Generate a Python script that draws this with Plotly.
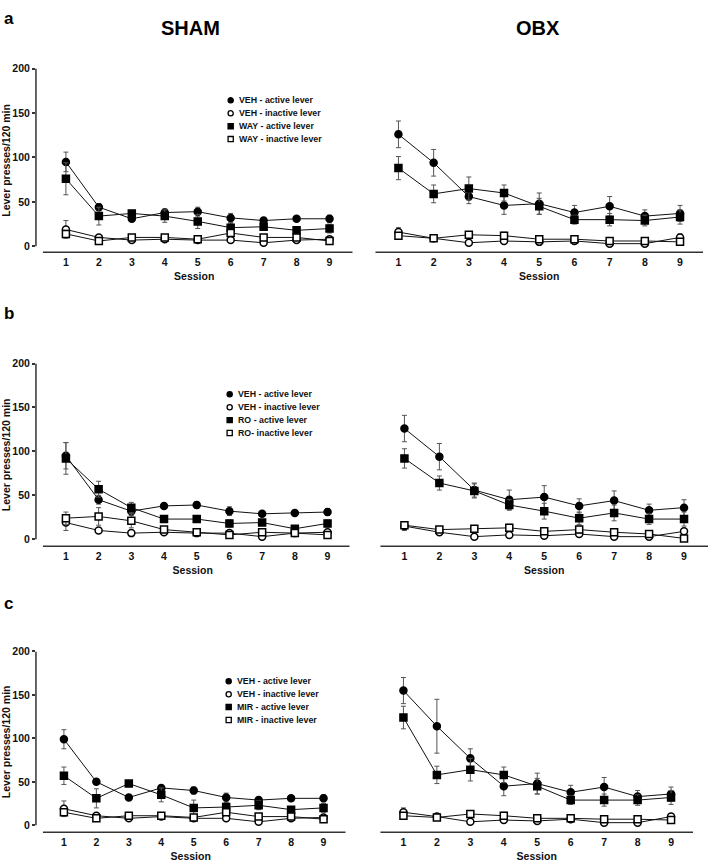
import plotly.graph_objects as go

W, H = 709, 865
sessions = [1, 2, 3, 4, 5, 6, 7, 8, 9]
y_ticks = [0, 50, 100, 150, 200]
col_titles = ["SHAM", "OBX"]
row_letters = ["a", "b", "c"]
legend_labels = [
    ["VEH - active lever", "VEH - inactive lever", "WAY - active lever", "WAY - inactive lever"],
    ["VEH - active lever", "VEH - inactive lever", "RO - active lever", "RO- inactive lever"],
    ["VEH - active lever", "VEH - inactive lever", "MIR - active lever", "MIR - inactive lever"],
]

# ---- Panel a (WAY) ----
a_sham_veh_act = [95, 44, 31, 38, 39, 32, 29, 31, 31]
a_sham_veh_act_err = [11, 4, 3, 4, 5, 5, 3, 3, 4]
a_sham_veh_inact = [19, 10, 7, 8, 7, 7, 4, 7, 8]
a_sham_veh_inact_err = [10, 2, 1, 1, 1, 1, 1, 1, 1]
a_sham_drug_act = [76, 34, 37, 34, 28, 21, 22, 18, 20]
a_sham_drug_act_err = [18, 10, 3, 7, 8, 5, 4, 3, 5]
a_sham_drug_inact = [14, 6, 10, 10, 8, 15, 10, 10, 6]
a_sham_drug_inact_err = [4, 1, 1, 2, 1, 3, 1, 1, 1]

a_obx_veh_act = [126, 94, 56, 46, 48, 38, 45, 34, 37]
a_obx_veh_act_err = [15, 15, 8, 10, 12, 8, 11, 7, 9]
a_obx_veh_inact = [16, 9, 4, 6, 5, 6, 3, 3, 10]
a_obx_veh_inact_err = [5, 1, 1, 1, 1, 1, 1, 1, 4]
a_obx_drug_act = [88, 59, 65, 60, 45, 30, 30, 29, 33]
a_obx_drug_act_err = [13, 10, 13, 9, 9, 5, 7, 6, 8]
a_obx_drug_inact = [12, 9, 13, 12, 8, 8, 6, 6, 5]
a_obx_drug_inact_err = [2, 1, 1, 4, 1, 1, 1, 1, 1]

# ---- Panel b (RO) ----
b_sham_veh_act = [95, 45, 32, 38, 39, 32, 29, 30, 31]
b_sham_veh_act_err = [15, 5, 5, 2, 4, 5, 2, 3, 4]
b_sham_veh_inact = [19, 10, 7, 8, 7, 7, 3, 7, 8]
b_sham_veh_inact_err = [9, 2, 1, 1, 1, 1, 1, 1, 1]
b_sham_drug_act = [92, 57, 36, 23, 23, 18, 19, 12, 18]
b_sham_drug_act_err = [18, 9, 6, 3, 3, 4, 3, 2, 4]
b_sham_drug_inact = [24, 26, 21, 11, 8, 5, 8, 7, 5]
b_sham_drug_inact_err = [7, 10, 8, 2, 1, 1, 1, 1, 1]

b_obx_veh_act = [126, 94, 56, 45, 48, 38, 44, 33, 36]
b_obx_veh_act_err = [15, 15, 8, 11, 13, 8, 11, 7, 9]
b_obx_veh_inact = [15, 8, 3, 5, 4, 6, 3, 3, 9]
b_obx_veh_inact_err = [5, 1, 1, 1, 1, 1, 1, 1, 3]
b_obx_drug_act = [92, 64, 55, 39, 32, 24, 30, 23, 23]
b_obx_drug_act_err = [11, 8, 8, 6, 9, 7, 9, 6, 8]
b_obx_drug_inact = [16, 11, 12, 13, 9, 11, 8, 6, 1]
b_obx_drug_inact_err = [3, 1, 1, 4, 1, 4, 1, 1, 1]

# ---- Panel c (MIR) ----
c_sham_veh_act = [99, 50, 32, 43, 40, 32, 29, 31, 31]
c_sham_veh_act_err = [11, 3, 2, 2, 4, 5, 3, 3, 4]
c_sham_veh_inact = [19, 11, 8, 10, 8, 8, 4, 8, 9]
c_sham_veh_inact_err = [9, 2, 1, 1, 1, 1, 1, 1, 1]
c_sham_drug_act = [57, 31, 48, 35, 20, 21, 23, 18, 20]
c_sham_drug_act_err = [10, 11, 2, 8, 9, 5, 5, 3, 5]
c_sham_drug_inact = [15, 8, 11, 11, 9, 15, 10, 10, 7]
c_sham_drug_inact_err = [4, 1, 1, 2, 1, 3, 1, 1, 1]

c_obx_veh_act = [155, 114, 77, 45, 48, 38, 44, 33, 36]
c_obx_veh_act_err = [15, 31, 11, 11, 12, 8, 11, 7, 8]
c_obx_veh_inact = [15, 10, 4, 6, 5, 7, 3, 3, 10]
c_obx_veh_inact_err = [5, 1, 1, 3, 1, 1, 1, 1, 3]
c_obx_drug_act = [124, 58, 64, 58, 45, 29, 29, 29, 32]
c_obx_drug_act_err = [13, 10, 13, 9, 9, 5, 7, 6, 8]
c_obx_drug_inact = [11, 9, 13, 11, 8, 8, 7, 7, 6]
c_obx_drug_inact_err = [2, 1, 1, 4, 1, 1, 1, 1, 1]

panels = [
    [
        (a_sham_veh_act, a_sham_veh_act_err, a_sham_veh_inact, a_sham_veh_inact_err,
         a_sham_drug_act, a_sham_drug_act_err, a_sham_drug_inact, a_sham_drug_inact_err),
        (a_obx_veh_act, a_obx_veh_act_err, a_obx_veh_inact, a_obx_veh_inact_err,
         a_obx_drug_act, a_obx_drug_act_err, a_obx_drug_inact, a_obx_drug_inact_err),
    ],
    [
        (b_sham_veh_act, b_sham_veh_act_err, b_sham_veh_inact, b_sham_veh_inact_err,
         b_sham_drug_act, b_sham_drug_act_err, b_sham_drug_inact, b_sham_drug_inact_err),
        (b_obx_veh_act, b_obx_veh_act_err, b_obx_veh_inact, b_obx_veh_inact_err,
         b_obx_drug_act, b_obx_drug_act_err, b_obx_drug_inact, b_obx_drug_inact_err),
    ],
    [
        (c_sham_veh_act, c_sham_veh_act_err, c_sham_veh_inact, c_sham_veh_inact_err,
         c_sham_drug_act, c_sham_drug_act_err, c_sham_drug_inact, c_sham_drug_inact_err),
        (c_obx_veh_act, c_obx_veh_act_err, c_obx_veh_inact, c_obx_veh_inact_err,
         c_obx_drug_act, c_obx_drug_act_err, c_obx_drug_inact, c_obx_drug_inact_err),
    ],
]

# ---- geometry (pixels) ----
row_geo = [(242, 63, 248), (537, 360, 544), (825, 650, 832)]
col_geo = [
    [(35, 352, 65, 329, 42), (375, 703, 398, 680, 375)],
    [(35, 349, 65, 327, 42), (380, 708, 404, 684, 380)],
    [(35, 345, 63, 323, 42), (380, 693, 403, 671, 380)],
]
letter_y = [13, 310, 602]
legend_rows = [[95, 108, 121, 134], [391, 404, 417, 430], [680, 693, 706, 719]]
legend_x = [230, 229, 228]

FONT = "Liberation Sans, Arial, sans-serif"

def px_x(p):
    return p / W

def px_y(p):
    return 1 - p / H

fig = go.Figure()
layout = dict(
    width=W, height=H, margin=dict(l=0, r=0, t=0, b=0),
    paper_bgcolor="white", plot_bgcolor="rgba(0,0,0,0)",
    showlegend=False, font=dict(family=FONT, color="black"),
)
shapes = []
annotations = []

styles = [
    dict(symbol="circle", fill="black"),
    dict(symbol="circle", fill="white"),
    dict(symbol="square", fill="black"),
    dict(symbol="square", fill="white"),
]

idx = 0
for r in range(3):
    y0p, y200p, ylinep = row_geo[r]
    scale = (y0p - y200p) / 200.0
    ymin = -(ylinep - y0p) / scale
    for c in range(2):
        idx += 1
        left, right, t1, t9, ls = col_geo[r][c]
        s = (t9 - t1) / 8.0
        xmin = 1 - (t1 - left) / s
        xmax = 9 + (right - t9) / s
        xa = "xaxis" if idx == 1 else f"xaxis{idx}"
        ya = "yaxis" if idx == 1 else f"yaxis{idx}"
        xr = "x" if idx == 1 else f"x{idx}"
        yr = "y" if idx == 1 else f"y{idx}"
        layout[xa] = dict(
            domain=[px_x(left), px_x(right)], range=[xmin, xmax], anchor=yr,
            tickvals=sessions, ticktext=[str(v) for v in sessions],
            showgrid=False, zeroline=False, showline=False, ticks="",
            ticklabelstandoff=2,
            tickfont=dict(size=10.5, family=FONT, color="#111", weight="bold"),
            title=dict(text="<b>Session</b>", font=dict(size=10.5, family=FONT, color="#111"), standoff=5),
        )
        ydict = dict(
            domain=[px_y(ylinep), px_y(y200p)], range=[ymin, 200], anchor=xr,
            showgrid=False, zeroline=False, showline=False,
        )
        if c == 0:
            ydict.update(
                tickvals=y_ticks, ticktext=[str(v) for v in y_ticks],
                ticks="outside", ticklen=3, tickwidth=1.5, tickcolor="#333",
                tickfont=dict(size=10.5, family=FONT, color="#111", weight="bold"),
                title=dict(text="<b>Lever presses/120 min</b>", font=dict(size=10.5, family=FONT, color="#111"), standoff=5),
            )
            shapes.append(dict(type="line", xref=f"{xr} domain", yref=yr,
                               x0=0, x1=0, y0=0, y1=200, line=dict(color="#333", width=1.5)))
        else:
            ydict.update(showticklabels=False, ticks="")
        layout[ya] = ydict
        shapes.append(dict(type="line", xref="paper", yref=f"{yr} domain",
                           x0=px_x(ls), x1=px_x(right), y0=0, y1=0,
                           line=dict(color="#333", width=1.5)))

        d = panels[r][c]
        series = [(d[0], d[1], 0), (d[4], d[5], 2), (d[2], d[3], 1), (d[6], d[7], 3)]
        for vals, errs, si in series:
            st = styles[si]
            fig.add_trace(go.Scatter(
                x=sessions, y=vals, mode="lines+markers", xaxis=xr, yaxis=yr,
                line=dict(color="#111", width=1),
                marker=dict(symbol=st["symbol"], size=7,
                            color=st["fill"], line=dict(color="black", width=1.5)),
                error_y=dict(type="data", array=errs, visible=True,
                             color="#555", thickness=1, width=2.5),
                cliponaxis=False,
            ))

    annotations.append(dict(text=f"<b>{row_letters[r]}</b>", xref="paper", yref="paper",
                            x=px_x(1), y=px_y(letter_y[r]), xanchor="left", yanchor="middle",
                            showarrow=False, font=dict(size=17, family=FONT, color="black")))
    for k in range(4):
        ly = legend_rows[r][k]
        lx = legend_x[r]
        shp = "circle" if k in (0, 1) else "rect"
        shapes.append(dict(type=shp, xref="paper", yref="paper",
                           x0=px_x(lx - 2.6), x1=px_x(lx + 2.6),
                           y0=px_y(ly + 2.6), y1=px_y(ly - 2.6),
                           line=dict(color="black", width=1.3),
                           fillcolor="black" if k in (0, 2) else "white"))
        annotations.append(dict(text=f"<b>{legend_labels[r][k]}</b>", xref="paper", yref="paper",
                                x=px_x(lx + 6), y=px_y(ly), xanchor="left", yanchor="middle",
                                showarrow=False, font=dict(size=8.8, family=FONT, color="#111")))

for c, cx in enumerate([190, 538]):
    annotations.append(dict(text=f"<b>{col_titles[c]}</b>", xref="paper", yref="paper",
                            x=px_x(cx), y=px_y(22), xanchor="center", yanchor="middle",
                            showarrow=False, font=dict(size=20, family=FONT, color="black")))

layout["shapes"] = shapes
layout["annotations"] = annotations
fig.update_layout(**layout)

fig.write_html("out.html", config={"displayModeBar": False},
               post_script="document.body.style.margin='0px';document.body.style.padding='0px';")
